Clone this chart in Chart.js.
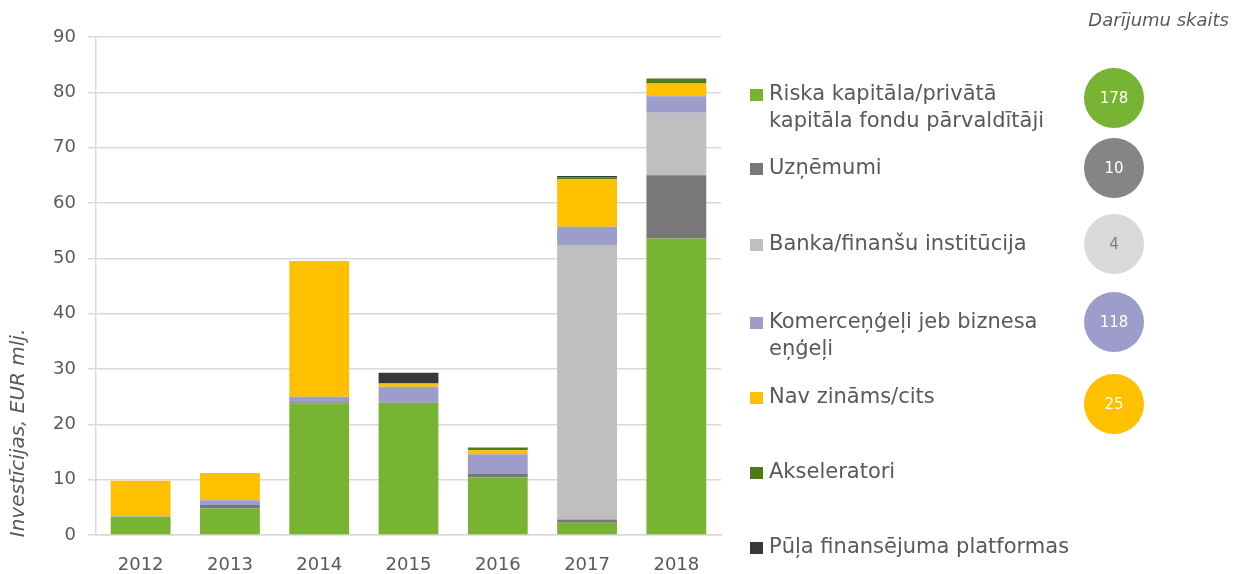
<!DOCTYPE html>
<html>
<head>
<meta charset="utf-8">
<script src="https://cdn.jsdelivr.net/npm/chart.js@4"></script>
<style>
  html, body { margin: 0; padding: 0; background: #ffffff; }
  #wrap { width: 1234px; height: 574px; position: relative; }
</style>
</head>
<body>
<div id="wrap"><canvas id="c" width="1234" height="574"></canvas></div>
<script>
const years = ['2012', '2013', '2014', '2015', '2016', '2017', '2018'];
const yTicks = [0, 10, 20, 30, 40, 50, 60, 70, 80, 90];

const seriesNames = [
  'Riska kapitāla/privātā\nkapitāla fondu pārvaldītāji',
  'Uzņēmumi',
  'Banka/finanšu institūcija',
  'Komerceņģeļi jeb biznesa\neņģeļi',
  'Nav zināms/cits',
  'Akseleratori',
  'Pūļa finansējuma platformas'
];
const riskCapital   = [3.3, 4.8, 23.8, 23.9, 10.4, 2.2, 53.6];
const companies     = [0,   0.6, 0.2,  0,    0.7,  0.6, 11.4];
const banks         = [0,   0,   0,    0,    0,    49.6, 11.3];
const businessAngels= [0.1, 0.9, 1.0,  2.9,  3.5,  3.3, 3.0];
const unknownOther  = [6.4, 4.9, 24.5, 0.6,  0.7,  8.6, 2.3];
const accelerators  = [0,   0,   0,    0,    0.5,  0.3, 0.9];
const crowdfunding  = [0,   0,   0,    1.9,  0,    0.3, 0];

const dealCountTitle = 'Darījumu skaits';
const dealCounts = [178, 10, 4, 118, 25];

const yTitle = 'Investīcijas, EUR mlj.';

const seriesColors = ['#78B433', '#787878', '#BFBFBF', '#9C9DCA', '#FFC000', '#4E7A19', '#383838'];
const circleColors = ['#78B433', '#858585', '#D9D9D9', '#9C9DCA', '#FFC000'];
const circleTextColors = ['#ffffff', '#ffffff', '#7f7f7f', '#ffffff', '#ffffff'];

const seriesValues = [riskCapital, companies, banks, businessAngels, unknownOther, accelerators, crowdfunding];

const FONT = '"DejaVu Sans", Verdana, sans-serif';
const TEXT = '#595959';

const legendPlugin = {
  id: 'sideLegend',
  afterDraw(chart) {
    const ctx = chart.ctx;
    ctx.save();
    // legend entries
    const rowY = [95, 169, 245, 323, 398, 473, 548];
    ctx.font = '21px ' + FONT;
    ctx.textBaseline = 'middle';
    ctx.textAlign = 'left';
    chart.data.datasets.forEach((ds, i) => {
      const y = rowY[i];
      ctx.fillStyle = ds.backgroundColor;
      ctx.fillRect(750, y - 6, 13, 12);
      ctx.fillStyle = TEXT;
      String(ds.label).split('\n').forEach((line, k) => {
        ctx.fillText(line, 769, y + k * 27);
      });
    });
    // deal count title
    ctx.font = 'italic 18px ' + FONT;
    ctx.textAlign = 'right';
    ctx.fillStyle = TEXT;
    ctx.fillText(dealCountTitle, 1229, 21);
    // circles
    const circY = [98, 168, 244, 322, 404];
    dealCounts.forEach((v, i) => {
      ctx.beginPath();
      ctx.arc(1114, circY[i], 30, 0, Math.PI * 2);
      ctx.fillStyle = circleColors[i];
      ctx.fill();
      ctx.font = '15px ' + FONT;
      ctx.textAlign = 'center';
      ctx.fillStyle = circleTextColors[i];
      ctx.fillText(String(v), 1114, circY[i] + 1);
    });
    // y axis title
    ctx.translate(19, 433);
    ctx.rotate(-Math.PI / 2);
    ctx.font = 'italic 20px ' + FONT;
    ctx.textAlign = 'center';
    ctx.fillStyle = TEXT;
    ctx.fillText(yTitle, 0, 0);
    ctx.restore();
  }
};

new Chart(document.getElementById('c'), {
  type: 'bar',
  data: {
    labels: years,
    datasets: seriesNames.map((name, i) => ({
      label: name,
      data: seriesValues[i],
      backgroundColor: seriesColors[i],
      borderWidth: 0,
      categoryPercentage: 1.0,
      barPercentage: 0.67
    }))
  },
  options: {
    responsive: false,
    animation: false,
    layout: { padding: { left: 0, right: 513, top: 37, bottom: 0 } },
    plugins: {
      legend: { display: false },
      tooltip: { enabled: false }
    },
    scales: {
      x: {
        stacked: true,
        grid: { display: false },
        border: { display: true, color: '#d9d9d9', width: 1.5 },
        ticks: { color: TEXT, font: { family: FONT, size: 18 }, padding: 12 },
        afterFit(s) { s.height = 39; }
      },
      y: {
        stacked: true,
        min: 0,
        max: 90,
        afterBuildTicks(s) { s.ticks = yTicks.map(v => ({ value: v })); },
        grid: { color: '#d9d9d9', lineWidth: 1.5, tickLength: 8 },
        border: { display: true, color: '#d9d9d9', width: 1.5 },
        ticks: { color: TEXT, font: { family: FONT, size: 18 }, padding: 12 },
        afterFit(s) { s.width = 96; }
      }
    }
  },
  plugins: [legendPlugin]
});
</script>
</body>
</html>
